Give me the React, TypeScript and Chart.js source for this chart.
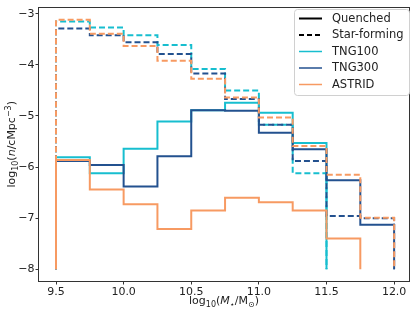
import React, { useEffect, useRef } from 'react';
import { Chart, registerables } from 'chart.js';

Chart.register(...registerables);

// ---- data ----
const binEdges = [9.5, 9.75, 10.0, 10.25, 10.5, 10.75, 11.0, 11.25, 11.5, 11.75, 12.0];
const floorValue = -8;
const tng100Quenched = [-5.81, -6.12, -5.64, -5.11, -4.89, -4.74, -4.94, -5.53];
const tng100StarForming = [-3.15, -3.27, -3.42, -3.61, -4.08, -4.50, -5.17, -6.12];
const tng300Quenched = [-5.88, -5.96, -6.38, -5.79, -4.89, -4.90, -5.33, -5.65, -6.26, -7.13];
const tng300StarForming = [-3.29, -3.42, -3.56, -3.79, -4.17, -4.67, -5.17, -5.88, -6.96, -7.0];
const astridQuenched = [-5.86, -6.44, -6.73, -7.21, -6.85, -6.60, -6.69, -6.85, -7.40];
const astridStarForming = [-3.12, -3.39, -3.63, -3.92, -4.27, -4.64, -5.03, -5.59, -6.15, -6.99];
const xTicks = [9.5, 10.0, 10.5, 11.0, 11.5, 12.0];
const yTicks = [-8, -7, -6, -5, -4, -3];
const legendLabels = ['Quenched', 'Star-forming', 'TNG100', 'TNG300', 'ASTRID'];

const C_TNG100 = '#17becf';
const C_TNG300 = '#23518f';
const C_ASTRID = '#f79a62';
const FONT = 'DejaVu Sans';

function stepPoints(values: number[]) {
  const pts: { x: number; y: number }[] = [{ x: binEdges[0], y: floorValue }];
  values.forEach((v, i) => {
    pts.push({ x: binEdges[i], y: v });
    pts.push({ x: binEdges[i + 1], y: v });
  });
  pts.push({ x: binEdges[values.length], y: floorValue });
  return pts;
}

type Part = { t: string; f?: string; dy?: number };

function drawRich(ctx: CanvasRenderingContext2D, parts: Part[], cx: number, cy: number, rot: number) {
  ctx.save();
  ctx.translate(cx, cy);
  ctx.rotate(rot);
  ctx.textBaseline = 'alphabetic';
  ctx.textAlign = 'left';
  ctx.fillStyle = '#222';
  let total = 0;
  const widths = parts.map((p) => {
    ctx.font = p.f || `11px "${FONT}"`;
    const w = ctx.measureText(p.t).width;
    total += w;
    return w;
  });
  let x = -total / 2;
  parts.forEach((p, i) => {
    ctx.font = p.f || `11px "${FONT}"`;
    ctx.fillText(p.t, x, 4 + (p.dy || 0));
    x += widths[i];
  });
  ctx.restore();
}

const decorPlugin = {
  id: 'decor',
  afterDraw(chart: any) {
    const ctx: CanvasRenderingContext2D = chart.ctx;
    const a = chart.chartArea;
    ctx.save();
    // frame
    ctx.strokeStyle = '#333';
    ctx.lineWidth = 1;
    ctx.strokeRect(Math.round(a.left) - 0.5, Math.round(a.top) - 0.5, Math.round(a.right - a.left) + 1, Math.round(a.bottom - a.top) + 1);

    // legend
    const bx = 294.5, by = 9.5, bw = 115, bh = 86, r = 3;
    ctx.beginPath();
    ctx.moveTo(bx + r, by);
    ctx.lineTo(bx + bw - r, by);
    ctx.quadraticCurveTo(bx + bw, by, bx + bw, by + r);
    ctx.lineTo(bx + bw, by + bh - r);
    ctx.quadraticCurveTo(bx + bw, by + bh, bx + bw - r, by + bh);
    ctx.lineTo(bx + r, by + bh);
    ctx.quadraticCurveTo(bx, by + bh, bx, by + bh - r);
    ctx.lineTo(bx, by + r);
    ctx.quadraticCurveTo(bx, by, bx + r, by);
    ctx.closePath();
    ctx.fillStyle = 'rgba(255,255,255,0.85)';
    ctx.fill();
    ctx.strokeStyle = '#d0d0d0';
    ctx.stroke();

    const handles = [
      { c: '#000', d: [] as number[], w: 2 },
      { c: '#000', d: [5, 3], w: 2 },
      { c: C_TNG100, d: [] as number[], w: 1.5 },
      { c: C_TNG300, d: [] as number[], w: 1.5 },
      { c: C_ASTRID, d: [] as number[], w: 1.5 },
    ];
    ctx.font = `11.5px "${FONT}"`;
    ctx.textBaseline = 'middle';
    ctx.textAlign = 'left';
    legendLabels.forEach((lab, i) => {
      const y = 18.5 + i * 16.5;
      const h = handles[i];
      ctx.beginPath();
      ctx.setLineDash(h.d);
      ctx.strokeStyle = h.c;
      ctx.lineWidth = h.w;
      ctx.moveTo(299, y);
      ctx.lineTo(322, y);
      ctx.stroke();
      ctx.setLineDash([]);
      ctx.fillStyle = '#222';
      ctx.fillText(lab, 332, y + 0.5);
    });

    // axis titles
    const f11 = `11px "${FONT}"`;
    const f8 = `8px "${FONT}"`;
    const fi = `italic 11px "${FONT}"`;
    drawRich(ctx, [
      { t: 'log', f: f11 },
      { t: '10', f: f8, dy: 2.5 },
      { t: '(', f: f11 },
      { t: 'M', f: fi },
      { t: '\u22c6', f: f8, dy: 2.5 },
      { t: '/M', f: f11 },
      { t: '\u2299', f: f8, dy: 2.5 },
      { t: ')', f: f11 },
    ], (a.left + a.right) / 2, 300, 0);
    drawRich(ctx, [
      { t: 'log', f: f11 },
      { t: '10', f: f8, dy: 2.5 },
      { t: '(', f: f11 },
      { t: 'n', f: fi },
      { t: '/cMpc', f: f11 },
      { t: '\u22123', f: f8, dy: -4.5 },
      { t: ')', f: f11 },
    ], 11, (a.top + a.bottom) / 2, -Math.PI / 2);
    ctx.restore();
  },
};

function ds(label: string, values: number[], color: string, dashed: boolean) {
  return {
    label,
    data: stepPoints(values),
    borderColor: color,
    backgroundColor: color,
    borderWidth: 2,
    borderDash: dashed ? [6, 3] : [],
    borderCapStyle: 'butt',
    borderJoinStyle: 'miter',
    pointRadius: 0,
    fill: false,
    tension: 0,
  };
}

export default function App() {
  const ref = useRef<HTMLCanvasElement>(null);
  useEffect(() => {
    document.body.style.margin = '0';
    const chart = new Chart(ref.current as HTMLCanvasElement, {
      type: 'line',
      data: {
        datasets: [
          ds('ASTRID SF', astridStarForming, C_ASTRID, true),
          ds('ASTRID Q', astridQuenched, C_ASTRID, false),
          ds('TNG300 SF', tng300StarForming, C_TNG300, true),
          ds('TNG300 Q', tng300Quenched, C_TNG300, false),
          ds('TNG100 SF', tng100StarForming, C_TNG100, true),
          ds('TNG100 Q', tng100Quenched, C_TNG100, false),
        ] as any,
      },
      options: {
        animation: false,
        responsive: false,
        layout: { padding: { top: 4, right: 7, left: 0, bottom: 0 } },
        plugins: { legend: { display: false }, tooltip: { enabled: false } },
        scales: {
          x: {
            type: 'linear',
            min: 9.3743,
            max: 12.11,
            afterBuildTicks: (s: any) => { s.ticks = xTicks.map((v) => ({ value: v })); },
            afterFit: (s: any) => { s.height = 32; },
            ticks: {
              font: { family: FONT, size: 11 },
              color: '#222',
              padding: 1,
              maxRotation: 0,
              autoSkip: false,
              callback: (v: any) => Number(v).toFixed(1),
            },
            grid: { drawOnChartArea: false, drawTicks: true, tickLength: 3.5, color: '#333' },
            border: { display: false },
          },
          y: {
            type: 'linear',
            min: -8.23,
            max: -2.88,
            afterBuildTicks: (s: any) => { s.ticks = yTicks.map((v) => ({ value: v })); },
            afterFit: (s: any) => { s.width = 39; },
            ticks: {
              font: { family: FONT, size: 11 },
              color: '#222',
              padding: 1,
              autoSkip: false,
              callback: (v: any) => (Number(v) < 0 ? '\u2212' + Math.abs(Number(v)) : String(v)),
            },
            grid: { drawOnChartArea: false, drawTicks: true, tickLength: 3.5, color: '#333' },
            border: { display: false },
          },
        },
      },
      plugins: [decorPlugin],
    });
    return () => chart.destroy();
  }, []);
  return (
    <div style={{ width: 416, height: 313 }}>
      <canvas ref={ref} width={416} height={313} />
    </div>
  );
}
